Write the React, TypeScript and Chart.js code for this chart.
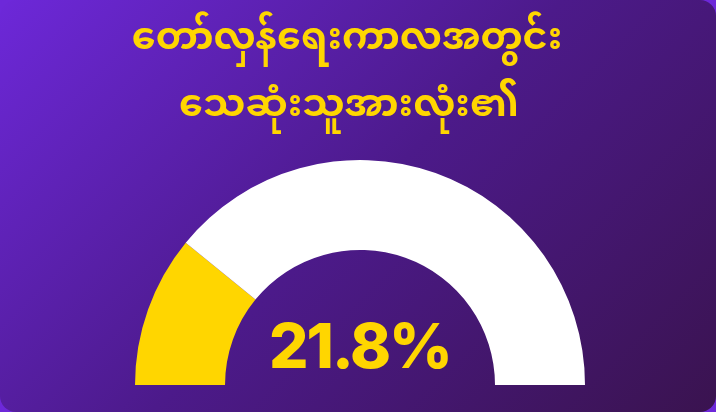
import React, { useEffect, useRef } from "react";
import { Chart, registerables } from "chart.js";

Chart.register(...registerables);

const titleLines = ["တော်လှန်ရေးကာလအတွင်း", "သေဆုံးသူအားလုံး၏"];
const categories = ["သေဆုံးသူ", "အခြား"];
const values = [21.8, 78.2];
const displayValue = "21.8%";
const colors = ["#FFD600", "#FFFFFF"];

const overlayPlugin = {
  id: "overlay",
  afterDraw(chart: any) {
    const ctx = chart.ctx;
    ctx.save();
    ctx.fillStyle = "#FFD600";
    ctx.textAlign = "center";
    ctx.textBaseline = "middle";
    ctx.font = "bold 38px 'Noto Sans Myanmar', Padauk, 'Noto Sans', sans-serif";
    ctx.fillText(titleLines[0], 347, 45);
    ctx.fillText(titleLines[1], 349, 112);
    const meta = chart.getDatasetMeta(0);
    const arc = meta.data[0];
    const cx = arc ? arc.x : 360;
    const cy = arc ? arc.y : 385;
    ctx.textBaseline = "alphabetic";
    ctx.font = "800 62px Inter, 'Open Sans', sans-serif";
    try {
      (ctx as any).letterSpacing = "-2px";
    } catch (e) {}
    ctx.fillText(displayValue, cx, cy - 17);
    ctx.restore();
  },
};

export default function App() {
  const ref = useRef<HTMLCanvasElement>(null);
  useEffect(() => {
    document.body.style.margin = "0";
    document.body.style.background = "#6D28D9";
    const chart = new Chart(ref.current!, {
      type: "doughnut",
      data: {
        labels: categories,
        datasets: [
          {
            data: values,
            backgroundColor: colors,
            borderWidth: 0,
            hoverOffset: 0,
          },
        ],
      },
      options: {
        animation: false,
        responsive: false,
        rotation: -90,
        circumference: 180,
        cutout: "60%",
        layout: { padding: { left: 135, right: 131, top: 160, bottom: 27 } },
        plugins: {
          legend: { display: false },
          tooltip: { enabled: false },
          title: { display: false },
        },
      },
      plugins: [overlayPlugin],
    });
    return () => chart.destroy();
  }, []);
  return (
    <div
      style={{
        width: 716,
        height: 412,
        borderRadius: 16,
        background: "linear-gradient(135deg, #6D28D9 0%, #4C1A8A 50%, #3A134F 100%)",
        overflow: "hidden",
      }}
    >
      <canvas ref={ref} width={716} height={412} style={{ display: "block" }} />
    </div>
  );
}
